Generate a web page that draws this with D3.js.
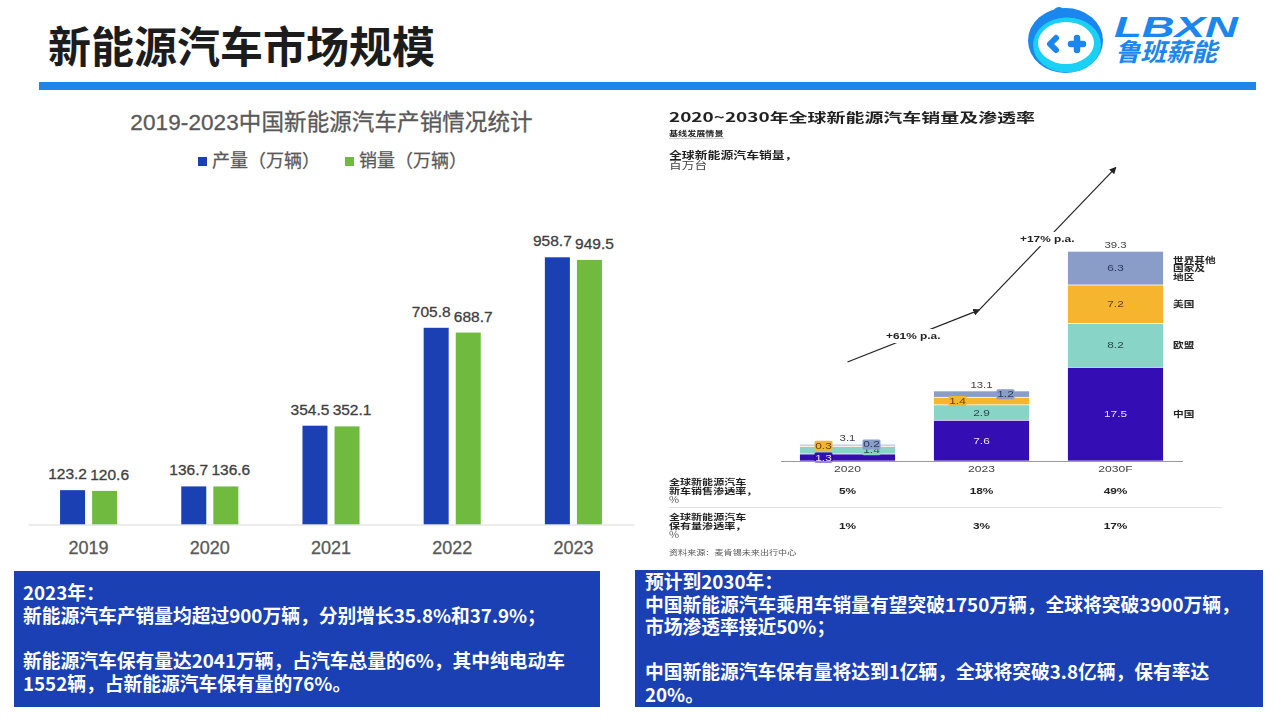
<!DOCTYPE html>
<html>
<head>
<meta charset="utf-8">
<script src="https://cdn.jsdelivr.net/npm/d3@7"></script>
<style>
  html, body { margin: 0; padding: 0; background: #fff; }
  svg { display: block; }
  text { font-family: "Liberation Sans", "Noto Sans CJK SC", sans-serif; }
  .cjk { font-family: "Noto Sans CJK SC", sans-serif; }
</style>
</head>
<body>
<svg id="chart" width="1280" height="720"></svg>
<script>
// left chart: China output and sales
var years = ["2019", "2020", "2021", "2022", "2023"];
var seriesNames = ["产量（万辆）", "销量（万辆）"];
var production = [123.2, 136.7, 354.5, 705.8, 958.7];
var sales = [120.6, 136.6, 352.1, 688.7, 949.5];

// right chart: global sales, million units
var globalYears = ["2020", "2023", "2030F"];
var regions = ["中国", "欧盟", "美国", "世界其他国家及地区"];
var china = [1.3, 7.6, 17.5];
var europe = [1.4, 2.9, 8.2];
var usa = [0.3, 1.4, 7.2];
var restOfWorld = [0.2, 1.2, 6.3];
var globalTotals = ["3.1", "13.1", "39.3"];
var newCarShare = ["5%", "18%", "49%"];
var fleetShare = ["1%", "3%", "17%"];
var growthLabels = ["+61% p.a.", "+17% p.a."];
var growthLevels = [18.5, 28.2, 54.8];

// text boxes
var leftNotes = ["2023年：", "新能源汽车产销量均超过900万辆，分别增长35.8%和37.9%；", "",
  "新能源汽车保有量达2041万辆，占汽车总量的6%，其中纯电动车", "1552辆，占新能源汽车保有量的76%。"];
var rightNotes = ["预计到2030年：", "中国新能源汽车乘用车销量有望突破1750万辆，全球将突破3900万辆，", "市场渗透率接近50%；", "",
  "中国新能源汽车保有量将达到1亿辆，全球将突破3.8亿辆，保有率达", "20%。"];

var svg = d3.select("#chart");
var defs = svg.append("defs");

defs.append("filter").attr("id", "soft")
  .append("feGaussianBlur").attr("stdDeviation", 0.35);

defs.append("marker").attr("id", "head")
  .attr("viewBox", "0 0 10 10").attr("refX", 8).attr("refY", 5)
  .attr("markerWidth", 7).attr("markerHeight", 7)
  .attr("markerUnits", "userSpaceOnUse").attr("orient", "auto")
  .append("path").attr("d", "M0,0L10,5L0,10Z").attr("fill", "#222");

/*** HEADER ***/
svg.append("text").attr("class", "cjk")
  .attr("x", 48).attr("y", 63)
  .attr("font-size", 43).attr("font-weight", 700).attr("fill", "#1c1c1c")
  .text("新能源汽车市场规模");

svg.append("rect").attr("x", 39).attr("y", 82).attr("width", 1217).attr("height", 8).attr("fill", "#1a86ee");

// logo
var logo = svg.append("g");
logo.append("circle").attr("cx", 1059).attr("cy", 13).attr("r", 6).attr("fill", "#1a86ee");
logo.append("ellipse").attr("cx", 1065.5).attr("cy", 40.5).attr("rx", 37.5).attr("ry", 32.5).attr("fill", "#1a86ee");
logo.append("ellipse").attr("cx", 1067).attr("cy", 45).attr("rx", 34).attr("ry", 27.5).attr("fill", "#1bd0f5");
logo.append("ellipse").attr("cx", 1066).attr("cy", 43).attr("rx", 28).attr("ry", 21).attr("fill", "#fff");
logo.append("path").attr("d", "M1056,38L1050,44L1056,50").attr("fill", "none")
  .attr("stroke", "#1a86ee").attr("stroke-width", 6).attr("stroke-linecap", "round").attr("stroke-linejoin", "round");
logo.append("path").attr("d", "M1071,44H1083M1077,38V50").attr("fill", "none")
  .attr("stroke", "#1a86ee").attr("stroke-width", 6.5).attr("stroke-linecap", "round");
logo.append("text")
  .attr("x", 1114).attr("y", 37)
  .attr("font-size", 29).attr("font-weight", 700).attr("font-style", "italic")
  .attr("textLength", 124).attr("lengthAdjust", "spacingAndGlyphs")
  .attr("fill", "#1a86ee").text("LBXN");
logo.append("text").attr("class", "cjk")
  .attr("x", 1115).attr("y", 61)
  .attr("font-size", 25).attr("font-weight", 700).attr("font-style", "italic")
  .attr("textLength", 102).attr("lengthAdjust", "spacingAndGlyphs")
  .attr("fill", "#1a86ee").text("鲁班薪能");

/*** LEFT CHART ***/
var x0 = d3.scaleBand().domain(years).range([28, 634]);
var x1 = d3.scaleBand().domain(seriesNames).range([0, x0.bandwidth()]).paddingInner(0.22).paddingOuter(1);
var y = d3.scaleLinear().domain([0, 1000]).range([524.5, 245.8]);
var barColors = d3.scaleOrdinal().domain(seriesNames).range(["#1a40b4", "#70bb3f"]);
var barSeries = [production, sales];
var labelShift = [-5, 5];

svg.append("text")
  .attr("x", 331.5).attr("y", 130).attr("text-anchor", "middle")
  .attr("font-size", 22.5).attr("fill", "#595959").attr("stroke", "#595959").attr("stroke-width", 0.3)
  .attr("letter-spacing", 0.1)
  .text("2019-2023中国新能源汽车产销情况统计");

var legendX = [198, 345];
seriesNames.forEach(function(name, i) {
  svg.append("rect").attr("x", legendX[i]).attr("y", 157).attr("width", 9).attr("height", 9).attr("fill", barColors(name));
  svg.append("text").attr("x", legendX[i] + 14).attr("y", 167)
    .attr("font-size", 18).attr("fill", "#595959").attr("stroke", "#595959").attr("stroke-width", 0.25).text(name);
});

seriesNames.forEach(function(name, s) {
  var g = svg.append("g");
  g.selectAll("rect").data(barSeries[s]).join("rect")
    .attr("x", function(d, i) { return x0(years[i]) + x1(name); })
    .attr("y", function(d) { return y(d); })
    .attr("width", x1.bandwidth())
    .attr("height", function(d) { return y(0) - y(d); })
    .attr("fill", barColors(name));
  g.selectAll("text").data(barSeries[s]).join("text")
    .attr("x", function(d, i) { return x0(years[i]) + x1(name) + x1.bandwidth() / 2 + labelShift[s]; })
    .attr("y", function(d) { return y(d) - 11; })
    .attr("text-anchor", "middle")
    .attr("font-size", 15.5).attr("fill", "#404040").attr("stroke", "#404040").attr("stroke-width", 0.3)
    .text(function(d) { return d.toFixed(1); });
});

var leftAxis = svg.append("g").attr("transform", "translate(0," + y(0) + ")")
  .call(d3.axisBottom(x0).tickSize(0).tickPadding(17));
leftAxis.select(".domain").attr("stroke", "#d9d9d9");
leftAxis.selectAll("text").attr("font-size", 18).attr("font-family", "Liberation Sans")
  .attr("fill", "#595959").attr("stroke", "#595959").attr("stroke-width", 0.3);

/*** RIGHT CHART (pasted picture, stretched and a little soft) ***/
var pic = svg.append("g").attr("filter", "url(#soft)");

function picText(px, py, str, size, weight, fill, anchor) {
  return pic.append("text").attr("class", "cjk")
    .attr("transform", "translate(" + px + "," + py + ") scale(1.3,1)")
    .attr("font-size", size).attr("font-weight", weight).attr("fill", fill)
    .attr("text-anchor", anchor || "start").text(str);
}

pic.append("text").attr("class", "cjk")
  .attr("x", 669).attr("y", 122).attr("font-size", 13).attr("font-weight", 700).attr("fill", "#222")
  .attr("textLength", 366).attr("lengthAdjust", "spacingAndGlyphs")
  .text("2020~2030年全球新能源汽车销量及渗透率");
picText(669, 136, "基线发展情景", 7, 700, "#222");
pic.append("rect").attr("x", 669).attr("y", 138).attr("width", 55).attr("height", 0.6).attr("fill", "#aaa");
picText(669, 159, "全球新能源汽车销量，", 9.9, 700, "#222");
picText(669, 169, "百万台", 9.8, 400, "#444");

var gx = d3.scaleBand().domain(globalYears).range([780.5, 1182.5]).paddingInner(0.29).paddingOuter(0.145);
var gy = d3.scaleLinear().domain([0, 40]).range([461, 247]);
var regionColors = d3.scaleOrdinal().domain(regions).range(["#3407b5", "#88d5c8", "#f5b52e", "#8a9cc8"]);
var regionInk = d3.scaleOrdinal().domain(regions).range(["#e8e4ff", "#2a4a50", "#6a4300", "#2c3a63"]);
var globalRows = globalYears.map(function(yr, i) {
  return { year: yr, "中国": china[i], "欧盟": europe[i], "美国": usa[i], "世界其他国家及地区": restOfWorld[i] };
});
var stacked = d3.stack().keys(regions)(globalRows);

stacked.forEach(function(layer, r) {
  pic.append("g").selectAll("rect").data(layer).join("rect")
    .attr("x", function(d) { return gx(d.data.year); })
    .attr("y", function(d) { return gy(d[1]) + 0.4; })
    .attr("width", gx.bandwidth())
    .attr("height", function(d) { return gy(d[0]) - gy(d[1]) - 0.8; })
    .attr("fill", regionColors(layer.key));
});

// thin segments get their label pushed sideways on a small chip
stacked.forEach(function(layer, r) {
  layer.forEach(function(d) {
    var h = gy(d[0]) - gy(d[1]);
    var value = d[1] - d[0];
    var cx = gx(d.data.year) + gx.bandwidth() / 2;
    var cy = (gy(d[0]) + gy(d[1])) / 2;
    if (h < 10) {
      cx += r % 2 == 0 ? -24 : 24;
      pic.append("rect").attr("x", cx - 9).attr("y", cy - 5).attr("width", 18).attr("height", 10).attr("rx", 1.5)
        .attr("fill", regionColors(layer.key));
    }
    pic.append("text")
      .attr("transform", "translate(" + cx + "," + (cy + 3) + ") scale(1.35,1)")
      .attr("text-anchor", "middle").attr("font-size", 8.8)
      .attr("fill", regionInk(layer.key))
      .text(value.toFixed(1));
  });
});

globalTotals.forEach(function(t, i) {
  var top = d3.sum(stacked, function(layer) { return layer[i][1] - layer[i][0]; });
  pic.append("text")
    .attr("transform", "translate(" + (gx(globalYears[i]) + gx.bandwidth() / 2) + "," + (gy(top) - 3) + ") scale(1.3,1)")
    .attr("text-anchor", "middle").attr("font-size", 8.8).attr("fill", "#444").text(t);
});

var rightAxis = pic.append("g").attr("transform", "translate(0," + gy(0) + ")")
  .call(d3.axisBottom(gx).tickSize(0).tickPadding(5));
rightAxis.select(".domain").attr("stroke", "#999").attr("stroke-width", 1.2);
rightAxis.selectAll("text")
  .attr("font-size", 9).attr("fill", "#444").attr("font-family", "Liberation Sans")
  .attr("transform", "scale(1.35,1)");

// region names next to the 2030 bar
var lastBar = gx(globalYears[2]) + gx.bandwidth() + 10;
var regionLines = [["中国"], ["欧盟"], ["美国"], ["世界其他", "国家及", "地区"]];
stacked.forEach(function(layer, r) {
  var mid = (gy(layer[2][0]) + gy(layer[2][1])) / 2;
  regionLines[r].forEach(function(line, k) {
    picText(lastBar, mid + 3 + (k - (regionLines[r].length - 1) / 2) * 8.6, line, 8.2, 700, "#222");
  });
});

// growth arrows, drawn from bar centres and growth levels
var arrowX = [gx(globalYears[0]) + gx.bandwidth() / 2, gx(globalYears[1]) + gx.bandwidth() / 2 - 2.5, gx(globalYears[2]) + gx.bandwidth() / 2];
growthLabels.forEach(function(label, i) {
  var xa = arrowX[i], ya = gy(growthLevels[i]), xb = arrowX[i + 1], yb = gy(growthLevels[i + 1]);
  pic.append("line").attr("x1", xa).attr("y1", ya).attr("x2", xb).attr("y2", yb)
    .attr("stroke", "#222").attr("stroke-width", 1.2).attr("marker-end", "url(#head)");
  var mx = (xa + xb) / 2, my = (ya + yb) / 2;
  pic.append("rect").attr("x", mx - 28).attr("y", my - 7).attr("width", 56).attr("height", 14).attr("fill", "#fff");
  pic.append("text")
    .attr("transform", "translate(" + mx + "," + (my + 3) + ") scale(1.35,1)")
    .attr("text-anchor", "middle").attr("font-size", 8.8).attr("font-weight", 700).attr("fill", "#222")
    .text(label);
});

// penetration table
var tableRows = [
  { lines: ["全球新能源汽车", "新车销售渗透率，", "%"], values: newCarShare, top: 484.5 },
  { lines: ["全球新能源汽车", "保有量渗透率，", "%"], values: fleetShare, top: 519.5 }
];
tableRows.forEach(function(row) {
  row.lines.forEach(function(line, k) {
    picText(669, row.top + k * 9, line, 8.5, k < 2 ? 700 : 400, k < 2 ? "#222" : "#555");
  });
  row.values.forEach(function(v, i) {
    pic.append("text")
      .attr("transform", "translate(" + (gx(globalYears[i]) + gx.bandwidth() / 2) + "," + (row.top + 9) + ") scale(1.35,1)")
      .attr("text-anchor", "middle").attr("font-size", 8.8).attr("font-weight", 700).attr("fill", "#222").text(v);
  });
});
pic.append("rect").attr("x", 669).attr("y", 507).attr("width", 553).attr("height", 0.8).attr("fill", "#ddd");
picText(669, 555, "资料来源：麦肯锡未来出行中心", 7, 400, "#555");

/*** TEXT BOXES ***/
function noteBox(bx, by, bw, bh, tx, firstY, lineGap, lines) {
  svg.append("rect").attr("x", bx).attr("y", by).attr("width", bw).attr("height", bh).attr("fill", "#1a40b4");
  svg.append("g").selectAll("text").data(lines).join("text")
    .attr("class", "cjk")
    .attr("x", tx)
    .attr("y", function(d, i) { return firstY + i * lineGap; })
    .attr("font-size", 18.75).attr("font-weight", 700).attr("fill", "#fff")
    .text(function(d) { return d; });
}
noteBox(14, 571, 586, 136, 23, 600, 22.7, leftNotes);
noteBox(635, 570, 628, 137, 645, 589, 22.6, rightNotes);
</script>
</body>
</html>
